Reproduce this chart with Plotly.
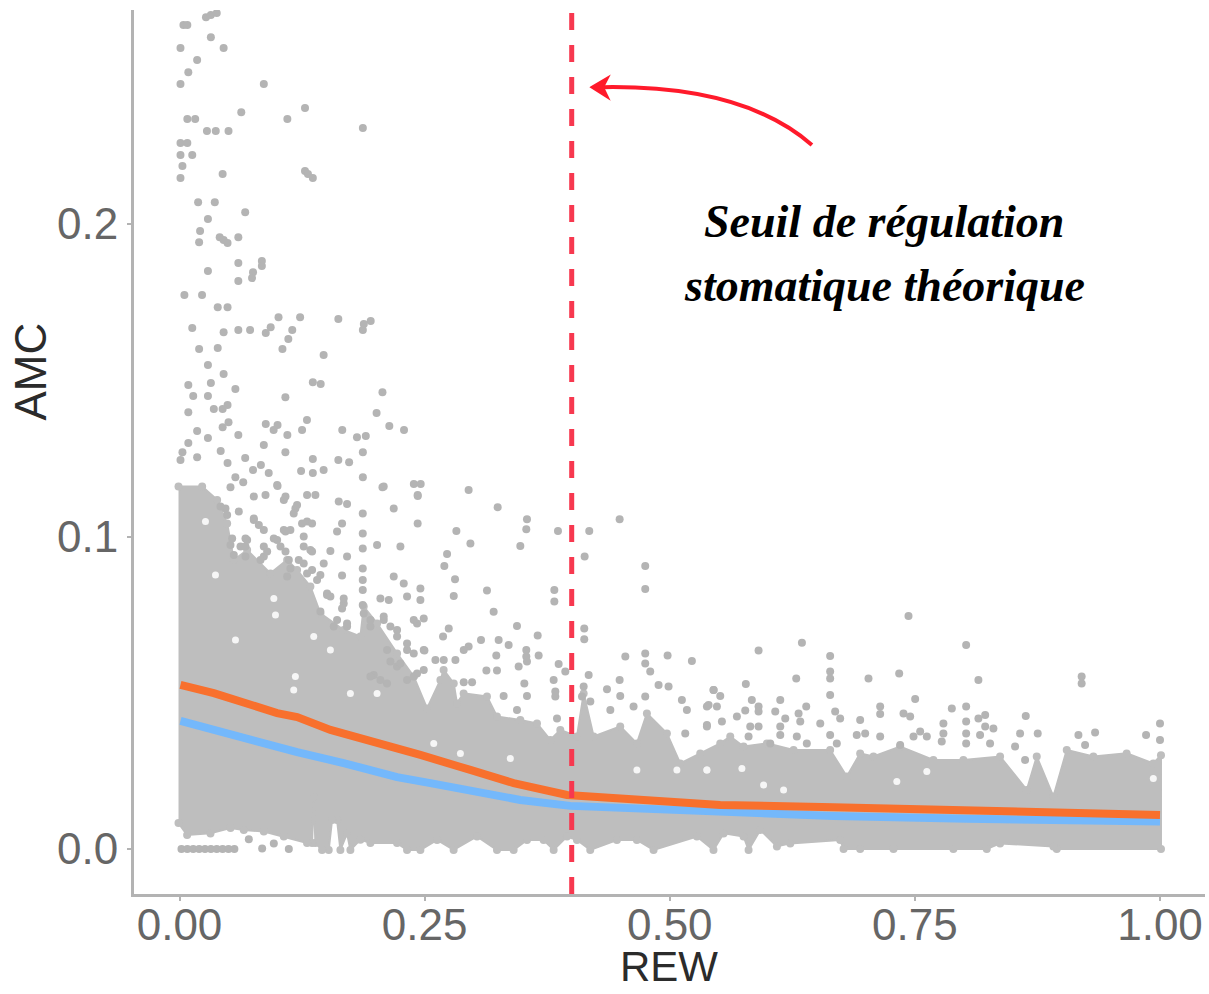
import plotly.graph_objects as go

# isolated points (REW, AMC)
points_top = [
(.004,.2637),(.008,.2637),(.027,.2662),(.032,.2669),(.038,.2675),(.032,.2598),(.001,.2563),(.045,.2563),
(.018,.2525),(.009,.2486),(.001,.2448),(.086,.2448),(.063,.2358),(.128,.2371),(.110,.2336),(.187,.2307),
(.008,.2336),(.016,.2336),(.028,.2298),(.037,.2298),(.050,.2298),(.001,.2259),(.008,.2259),(.001,.2221),
(.013,.2221),(.003,.2186),(.001,.2147),(.044,.2160),(.128,.2170),(.131,.2160),(.136,.2147),(.019,.2070),
(.036,.2070),(.067,.2038),(.029,.2016),(.021,.1978),(.020,.1942),(.041,.1958),(.045,.1949),(.049,.1939),
(.060,.1958),
]
points_mid = [
(.029,.1850),(.060,.1875),(.084,.1882),(.084,.1866),(.075,.1846),(.074,.1827),(.060,.1818),(.005,.1773),
(.023,.1773),(.039,.1734),(.049,.1734),(.101,.1702),(.123,.1702),(.162,.1696),(.195,.1690),(.188,.1680),
(.187,.1661),(.013,.1667),(.045,.1654),(.060,.1661),(.072,.1661),(.093,.1670),(.088,.1651),(.115,.1661),
(.111,.1632),(.105,.1600),(.147,.1581),(.020,.1600),(.039,.1603),(.029,.1549),(.045,.1520),(.009,.1485),
(.032,.1491),(.057,.1472),(.136,.1494),(.144,.1488),(.207,.1462),(.014,.1450),(.029,.1450),(.108,.1446),
(.009,.1398),(.035,.1408),(.049,.1421),(.044,.1408),(.201,.1395),(.088,.1360),(.100,.1357),(.096,.1341),
(.214,.1354),(.229,.1341),(.130,.1373),(.125,.1341),(.050,.1366),(.044,.1350),(.018,.1338),(.029,.1315),
(.060,.1325),(.110,.1325),(.166,.1341),(.181,.1318),(.190,.1322),(.086,.1293),(.009,.1299),(.003,.1270),
(.001,.1245),(.018,.1254),(.042,.1274),(.108,.1270),(.187,.1270),(.067,.1251),(.049,.1235),(.136,.1248),
(.162,.1245),(.173,.1238),(.124,.1210),(.136,.1203),(.147,.1213),(.083,.1229),(.075,.1213),(.091,.1203),
(.187,.1190),(.207,.1158),(.239,.1168),(.246,.1168),(.243,.1130),(.100,.1162),(.057,.1190),(.065,.1174),
(.052,.1158),
]
points_dense_edge = [
(.0758,.1128),(.0877,.1133),(.0996,.1165),(.1064,.1117),(.1182,.1090),(.1301,.1133),(.1386,.1133),(.1624,.1112),
(.1709,.1104),(.1869,.1074),(.1869,.1010),(.1869,.0962),(.1869,.0898),(.1869,.0861),(.1869,.0829),(.1869,.0781),
(.2083,.1160),(.2185,.1090),(.2429,.1133),(.2429,.1042),(.2253,.0968),(.2015,.0973),(.1709,.0936),(.1539,.0954),
(.1658,.1042),(.1607,.1016),(.1471,.0914),(.1658,.0875),(.2185,.0872),(.2287,.0850),(.2457,.0834),(.2321,.0808),
(.2457,.0797),(.2049,.0802),(.2134,.0797),(.2423,.0722),(.2491,.0738),(.2491,.0637),(.0605,.1080),(.0469,.1090),
(.0758,.1053),(.1301,.1048),(.1267,.1000),(.1335,.0957),(.1131,.1021),(.1064,.1021),(.0996,.0989),(.0860,.0936),
(.0622,.0968),(.0690,.0989),(.1267,.0914),(.1352,.0893),(.1437,.0877),(.1131,.0898),(.1098,.0872),(.1505,.0813),
(.1675,.0786),(.1437,.0760),(.1607,.0733),(.1709,.0712),(.1947,.0712),(.2083,.0733),(.2219,.0680),(.2321,.0637),
(.2117,.0637),(.2219,.0584),(.2423,.0562),(.2321,.0541),(.2117,.0530),(.1981,.0557),
(.0418,.1096),(.0486,.1069),(.0537,.0994),(.0520,.0973),(.0554,.0941),(.0673,.0994),(.0673,.0968),(.0673,.0936),
(.0758,.1058),(.0809,.1037),(.0860,.1021),(.0860,.0968),(.0894,.0952),(.0826,.0925),(.0962,.0994),(.1030,.0968),
(.1081,.0952),(.1115,.0925),(.1081,.1016),(.1165,.1074),(.1199,.1101),(.1081,.1128),(.1250,.1042),(.1352,.1042),
(.1267,.0968),(.1352,.0952),(.1216,.0925),(.1301,.0882),(.1403,.0861),(.1505,.0818),(.1539,.0808),(.1675,.0802),
(.1658,.0770),(.1573,.0712),(.1709,.0722),(.1879,.0754),(.1947,.0733),(.2083,.0744),(.2151,.0712),(.2219,.0701),
(.2321,.0658),(.2389,.0626),(.2253,.0594),(.2151,.0600),(.2049,.0541),(.1947,.0552),(.2491,.0573),(.2389,.0552),
(.2389,.0733),
]
points_centre = [
(.2949,.1149),(.3245,.1094),(.3544,.1055),(.3537,.1023),(.2824,.1018),(.2967,.0978),(.3476,.0970),(.3860,.1018),
(.4179,.1018),(.4489,.1055),(.4132,.0936),(.2729,.0944),(.2701,.0906),(.2810,.0863),(.2797,.0810),(.3136,.0827),
(.3823,.0829),(.3823,.0792),(.3204,.0759),(.4750,.0906),(.4750,.0832),(.3442,.0714),(.3653,.0683),(.4128,.0706),
(.4128,.0671),(.2746,.0706),(.2688,.0680),(.3075,.0669),(.2949,.0648),(.2899,.0637),(.3255,.0669),(.3357,.0653),
(.2498,.0635),(.2610,.0605),(.2695,.0605),(.2814,.0605),(.3231,.0619),(.3537,.0637),(.3537,.0616),(.3663,.0619),
(.3459,.0584),(.3544,.0600),(.3867,.0592),(.3935,.0568),(.4547,.0616),(.4750,.0626),(.4750,.0594),(.4801,.0568),
(.4978,.0619),(.5226,.0602),(.3130,.0571),(.3238,.0571),(.4173,.0557),(.4122,.0520),(.4105,.0488),(.4489,.0541),
(.4360,.0511),(.3816,.0541),(.3517,.0530),(.2899,.0534),(.2984,.0534),(.3306,.0490),(.3544,.0490),(.3833,.0504),
(.3833,.0488),(.4495,.0490),(.4750,.0488),(.4886,.0525),(.4988,.0520),(.5124,.0477),(.5447,.0509),(.5379,.0456),
(.5175,.0445),(.3850,.0418),(.3442,.0445),(.4394,.0445),(.4631,.0456),(.4190,.0472),(.5158,.0370),(.5379,.0397),
]
points_right = [
(.7435,.0746),(.6348,.0660),(.5906,.0635),(.8023,.0653),(.6636,.0618),(.6636,.0568),(.6636,.0546),(.6636,.0493),
(.6290,.0546),(.7027,.0546),(.7340,.0562),(.8148,.0541),(.9201,.0552),(.9201,.0530),(.5776,.0528),(.7503,.0480),
(.5447,.0509),(.5515,.0490),(.5396,.0461),(.5481,.0456),(.5837,.0477),(.5906,.0456),(.5770,.0443),(.5906,.0440),
(.6127,.0477),(.6076,.0440),(.6178,.0418),(.6392,.0456),(.6314,.0434),(.6331,.0408),(.7877,.0450),(.8023,.0456),
(.8023,.0408),(.8023,.0370),(.8023,.0338),(.7146,.0456),(.7146,.0432),(.6687,.0440),(.6738,.0418),(.7384,.0434),
(.7452,.0424),(.8217,.0429),(.8148,.0418),(.8217,.0392),(.8301,.0386),(.8165,.0365),(.8267,.0338),(.8631,.0426),
(.8753,.0370),(.8573,.0370),(.8522,.0328),(.8624,.0285),(.9168,.0365),(.9236,.0333),(.9338,.0373),(.9858,.0365),
(1.0,.0402),(1.0,.0349),(.5379,.0392),(.5532,.0408),(.5685,.0424),(.5821,.0392),(.5906,.0392),(.5804,.0360),
(.6127,.0392),(.6127,.0365),(.6535,.0402),(.6636,.0365),(.6704,.0338),(.6942,.0413),(.6907,.0365),(.6993,.0370),
(.7146,.0360),(.7554,.0376),(.7486,.0360),(.7622,.0360),(.7791,.0402),(.7791,.0370),(.7774,.0344),(.7350,.0333),
(.6296,.0360),(.6398,.0338),(.6025,.0338),
]
points_zero = [
(.002,0),(.008,0),(.014,0),(.020,0),(.026,0),(.032,0),(.038,0),(.044,0),(.050,0),(.056,0),
(.0707,.0031),(.0843,.0002),(.0962,.0018),(.1115,0),
]

# upper edge of the solid cloud of points
cloud_top = [
(-.001,.1160),(.0231,.1160),(.0384,.1117),(.0486,.1042),(.0554,.0925),(.0690,.0957),(.0928,.0882),(.1098,.0925),
(.1199,.0893),(.1335,.0840),(.1437,.0754),(.1675,.0701),(.1845,.0680),(.1879,.0776),(.2015,.0722),(.2219,.0626),
(.2389,.0552),(.2525,.0450),(.2661,.0541),(.2694,.0573),(.2797,.0530),(.2830,.0466),(.2898,.0498),(.3136,.0488),
(.3238,.0424),(.3476,.0413),(.3646,.0402),(.3782,.0349),(.3884,.0381),(.4054,.0360),(.4122,.0498),(.4224,.0360),
(.4495,.0392),(.4665,.0338),(.4767,.0434),(.4971,.0370),(.5107,.0274),(.5311,.0306),(.5515,.0338),(.5617,.0360),
(.5753,.0328),(.5991,.0338),(.6263,.0317),(.6636,.0317),(.6806,.0232),(.6942,.0306),(.7078,.0296),(.7350,.0328),
(.7689,.0285),(.7995,.0285),(.8369,.0296),(.8641,.0189),(.8743,.0296),(.8913,.0168),(.9049,.0317),(.9321,.0296),
(.9660,.0306),(.9932,.0274),(1.001,.0300),
]
# lower edge of the solid cloud of points
cloud_bottom = [
(-.001,.0083),(.0078,.0045),(.0316,.0050),(.0520,.0067),(.0656,.0061),(.0860,.0056),(.1064,.0040),(.1301,.0019),
(.1352,.0019),(.1369,.0166),(.1386,.0019),(.1454,-.0003),(.1522,-.0003),(.1556,.0093),(.1607,.0093),(.1641,-.0003),
(.1709,.0050),(.1743,-.0003),(.1845,.0030),(.1947,.0019),(.2219,.0019),(.2321,-.0003),(.2457,-.0003),(.2627,.0029),
(.2796,-.0003),(.3034,.0040),(.3238,-.0003),(.3408,-.0003),(.3544,.0029),(.3714,.0029),(.3816,-.0003),(.3952,.0040),
(.4054,.0029),(.4189,-.0003),(.4461,.0029),(.4665,.0029),(.4835,-.0003),(.5277,.0040),(.5446,-.0003),(.5549,.0050),
(.5753,.0040),(.5804,-.0003),(.5923,.0061),(.6093,.0008),(.6229,.0018),(.6738,.0029),(.6773,0),(.6942,0),
(.7282,0),(.7893,0),(.8233,0),(.8369,.0018),(.8913,.0008),(.8947,0),(1.001,0),
]
# gaps visible inside the cloud
cloud_gaps = [
(.1369,.0680),(.1182,.0552),(.1539,.0637),(.0962,.0802),(.0979,.0749),(.1165,.0509),(.0571,.0669),(.0367,.0877),
(.0265,.1048),(.1743,.0498),(.2015,.0498),(.5379,.0253),(.5736,.0258),(.7622,.0248),(.9932,.0226),(.7316,.0216),
(.5957,.0205),(.6161,.0189),(.4665,.0253),(.5073,.0253),(.5379,.0253),(.3374,.0290),(.2593,.0338),(.2865,.0306),
]

# the two smoothed curves
orange_rew = [.001,.035,.0996,.120,.154,.2015,.2457,.2966,.3408,.3952,.4495,.5515,.667,.803,1.0]
orange_amc = [.0525,.0499,.0435,.0422,.0381,.0342,.0301,.0253,.0211,.0173,.0163,.0141,.0134,.0125,.0109]
blue_rew = [.001,.069,.120,.1674,.2219,.2559,.3476,.3986,.4495,.5515,.667,.803,1.0]
blue_amc = [.0410,.0352,.0310,.0275,.0230,.0211,.0157,.0138,.0131,.0118,.0106,.0097,.0088]

threshold_rew = 0.40
x_ticks = [0, .25, .5, .75, 1]
x_labels = ["0.00", "0.25", "0.50", "0.75", "1.00"]
y_ticks = [0, .1, .2]
y_labels = ["0.0", "0.1", "0.2"]

GREY = "#bebebe"
DOT = "#b4b4b4"
TICK_TEXT = "#666666"
AXIS = "#b3b3b3"
RED = "#f7384f"

fig = go.Figure()

poly = cloud_top + cloud_bottom[::-1]
fig.add_trace(go.Scatter(x=[p[0] for p in poly], y=[p[1] for p in poly], mode="lines+markers",
                         fill="toself", fillcolor=GREY, line=dict(color=GREY, width=2),
                         marker=dict(color=GREY, size=8), showlegend=False))
fig.add_trace(go.Scatter(x=[p[0] for p in cloud_gaps], y=[p[1] for p in cloud_gaps], mode="markers",
                         marker=dict(color="#f6f6f6", size=7), showlegend=False))
dots = points_top + points_mid + points_dense_edge + points_centre + points_right + points_zero
fig.add_trace(go.Scatter(x=[p[0] for p in dots], y=[p[1] for p in dots], mode="markers",
                         marker=dict(color=DOT, size=8), showlegend=False))
fig.add_trace(go.Scatter(x=blue_rew, y=blue_amc, mode="lines", line=dict(color="#74b8fb", width=8), showlegend=False))
fig.add_trace(go.Scatter(x=orange_rew, y=orange_amc, mode="lines", line=dict(color="#f8702d", width=8), showlegend=False))
fig.add_trace(go.Scatter(x=[threshold_rew, threshold_rew], y=[-.0144, .2685], mode="lines",
                         line=dict(color=RED, width=5, dash="17px,15px"), showlegend=False))

fig.add_shape(type="path", path="M .645 .2253 Q .575 .2445 .432 .2438", line=dict(color="#ff1a2b", width=4), layer="above")
fig.add_shape(type="path", path="M .420 .2438 L .4373 .2470 L .432 .2438 L .4373 .2403 Z",
              line=dict(color="#ff1a2b", width=2), fillcolor="#ff1a2b", layer="above")

note_font = dict(family="Liberation Serif", size=46, color="black")
fig.add_annotation(x=.7185, y=.2009, text="<b><i>Seuil de régulation</i></b>", showarrow=False, font=note_font)
fig.add_annotation(x=.7195, y=.1802, text="<b><i>stomatique théorique</i></b>", showarrow=False, font=note_font)

title_font = dict(family="Liberation Sans", size=44, color="#2b2b2b")
fig.add_annotation(xref="paper", yref="paper", x=.4998, y=-.0825, xanchor="center", yanchor="middle",
                   text="REW", showarrow=False, font=dict(family="Liberation Sans", size=42, color="#2b2b2b"))
fig.add_annotation(xref="paper", yref="paper", x=-.0966, y=.5905, xanchor="center", yanchor="middle",
                   text="AMC", textangle=-90, showarrow=False, font=title_font)

fig.update_layout(
    width=1209, height=994, margin=dict(l=133.5, r=4, t=10, b=100),
    paper_bgcolor="white", plot_bgcolor="white", showlegend=False,
    font=dict(family="Liberation Sans"),
)
fig.update_xaxes(range=[-.0464, 1.0459], tickvals=x_ticks, ticktext=x_labels, showgrid=False, zeroline=False,
                 showline=True, linecolor=AXIS, linewidth=3, ticks="outside", ticklen=4, tickcolor=AXIS, tickwidth=2,
                 tickfont=dict(size=44, color=TICK_TEXT), automargin=False, ticklabelstandoff=-14)
fig.update_yaxes(range=[-.0144, .2685], tickvals=y_ticks, ticktext=y_labels, showgrid=False, zeroline=False,
                 showline=True, linecolor=AXIS, linewidth=3, ticks="outside", ticklen=4, tickcolor=AXIS, tickwidth=2,
                 tickfont=dict(size=44, color=TICK_TEXT), automargin=False)

fig.write_html("out.html", post_script="document.body.style.margin='0';", config=dict(displayModeBar=False))
